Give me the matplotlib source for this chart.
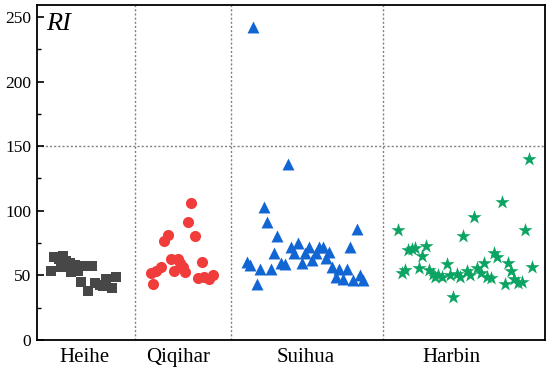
import matplotlib
matplotlib.use("Agg")
import matplotlib.pyplot as plt
from matplotlib.ticker import MultipleLocator

plt.rcParams['font.family'] = ['Liberation Serif', 'DejaVu Serif']

categories = ["Heihe", "Qiqihar", "Suihua", "Harbin"]
category_pos = [14.4, 43.0, 82.0, 126.4]
separators = [30.0, 59.2, 105.5]

heihe_x = [4.2, 5.2, 6.9, 8.1, 7.3, 8.9, 10.1, 10.5, 11.6, 12.6, 14.5, 16.7,
           13.5, 15.7, 17.7, 19.3, 20.3, 21.1, 22.8, 24.1]
heihe_y = [53.4, 64.4, 62.4, 65.0, 56.5, 61.3, 59.3, 52.8, 58.0, 53.4, 57.5, 57.2,
           44.6, 38.1, 43.9, 42.5, 42.0, 46.9, 40.0, 48.5]

qiqihar_x = [34.7, 35.5, 36.3, 37.8, 38.8, 40.1, 40.9, 41.9, 42.9, 43.6, 44.5, 45.2,
             46.2, 47.1, 48.3, 49.2, 50.2, 50.9, 52.5, 53.6]
qiqihar_y = [52.0, 43.1, 53.4, 56.7, 76.6, 81.2, 62.4, 53.4, 62.6, 59.3, 56.2, 52.8,
             91.5, 105.7, 80.4, 47.7, 60.6, 48.5, 46.9, 50.3]

suihua_x = [64.0, 65.0, 66.0, 67.0, 68.0, 69.2, 70.2, 71.3, 72.3, 73.3, 74.3, 75.6,
            76.4, 77.5, 78.5, 79.7, 80.7, 81.7, 82.9, 83.9, 85.0, 86.1, 87.1, 88.1,
            89.1, 90.0, 91.2, 92.2, 93.2, 94.4, 95.4, 96.4, 97.5, 98.5, 99.5]
suihua_y = [60.6, 58.0, 242.3, 43.3, 54.7, 103.1, 91.5, 54.7, 67.5, 80.7, 59.8, 58.8,
            135.9, 72.2, 67.1, 74.8, 59.8, 67.1, 71.7, 61.9, 67.1, 71.7, 72.2, 63.2,
            67.8, 56.7, 49.0, 54.7, 46.9, 54.7, 72.2, 46.4, 85.6, 50.3, 46.4]

harbin_x = [110.1, 111.2, 112.2, 113.2, 114.2, 115.2, 116.5, 117.5, 118.6, 119.6,
            120.6, 121.3, 122.3, 123.4, 124.9, 125.9, 126.9, 127.9, 128.9, 129.9,
            131.0, 132.0, 133.2, 134.2, 135.3, 136.3, 137.3, 138.3, 139.3, 140.1,
            141.7, 142.7, 143.5, 144.5, 145.5, 146.5, 147.7, 148.8, 150.0, 151.0]
harbin_y = [85.1, 51.6, 54.1, 69.6, 70.4, 70.9, 55.5, 65.0, 72.7, 54.1,
            51.0, 49.0, 50.3, 48.5, 58.8, 50.3, 33.0, 51.0, 48.5, 80.4,
            53.6, 50.3, 95.4, 55.5, 52.0, 59.8, 49.0, 47.7, 67.5, 64.0,
            107.0, 43.3, 59.8, 53.6, 46.9, 44.3, 45.1, 85.1, 139.8, 56.2]

fig = plt.figure(figsize=(5.5, 3.7), dpi=100)
ax = fig.add_axes([0.0669, 0.0811, 0.9249, 0.9062])

ax.scatter(heihe_x, heihe_y, marker='s', s=60, color='#474747', linewidths=0, zorder=3)
ax.scatter(qiqihar_x, qiqihar_y, marker='o', s=64, color='#F03C3A', linewidths=0, zorder=3)
ax.scatter(suihua_x, suihua_y, marker='^', s=74, color='#1266D4', linewidths=0, zorder=3)
ax.scatter(harbin_x, harbin_y, marker='*', s=115, color='#0CA463', linewidths=0, zorder=3)

for sx in separators:
    ax.axvline(sx, color='#808080', linestyle=(0, (1.5, 1.5)), linewidth=1.0, zorder=1)
ax.axhline(150, color='#808080', linestyle=(0, (1.5, 1.5)), linewidth=1.0, zorder=1)

ax.set_xlim(0, 155)
ax.set_ylim(0, 259.5)
ax.yaxis.set_major_locator(MultipleLocator(50))
ax.yaxis.set_minor_locator(MultipleLocator(25))
ax.tick_params(axis='y', which='major', direction='in', length=5, width=1.2, labelsize=12.5, pad=4)
ax.tick_params(axis='y', which='minor', direction='in', length=3, width=1.0)
ax.set_xticks(category_pos)
ax.set_xticklabels(categories)
ax.tick_params(axis='x', length=0, labelsize=15, pad=6)

for sp in ax.spines.values():
    sp.set_linewidth(1.3)
    sp.set_color('black')

ax.text(0.018, 0.975, "RI", transform=ax.transAxes, ha='left', va='top',
        fontsize=19, style='italic')

fig.savefig("out.png", dpi=100)
